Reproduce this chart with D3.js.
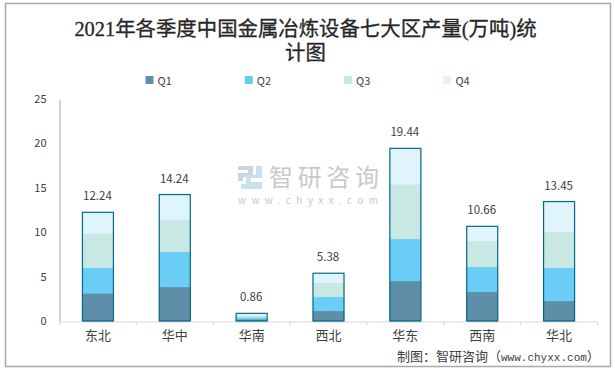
<!DOCTYPE html>
<html>
<head>
<meta charset="utf-8">
<script src="https://cdn.jsdelivr.net/npm/d3@7/dist/d3.min.js"></script>
<style>
  html, body { margin: 0; padding: 0; background: #fff; }
  svg { display: block; }
  text { font-family: "Noto Sans CJK SC", "Noto Sans", sans-serif; }
</style>
</head>
<body>
<svg></svg>
<script>
const regions = ['东北', '华中', '华南', '西北', '华东', '西南', '华北'];
const quarters = ['Q1', 'Q2', 'Q3', 'Q4'];
const q1 = [3.12, 3.83, 0.2, 1.13, 4.5, 3.27, 2.25];
const q2 = [2.88, 3.94, 0.2, 1.57, 4.73, 2.81, 3.75];
const q3 = [3.87, 3.6, 0.24, 1.58, 6.16, 2.92, 4.02];
const q4 = [2.37, 2.87, 0.22, 1.1, 4.05, 1.66, 3.43];
const totals = [12.24, 14.24, 0.86, 5.38, 19.44, 10.66, 13.45];
const yTicks = [0, 5, 10, 15, 20, 25];

const COLORS = ['#5f8fa8', '#69cdf6', '#c9e8e4', '#dff4fb'];
const STROKES = ['#4d7c96', '#69cdf6', '#b5dcd6', '#dff4fb'];
const OUTLINE = '#006a8e';

const width = 615;
const height = 370;

const svg = d3.select('svg').attr('width', width).attr('height', height);

// 外框
svg.append('rect')
    .attr('x', 5.5).attr('y', 3.5)
    .attr('width', 605).attr('height', 363)
    .attr('fill', '#fff')
    .attr('stroke', '#a9a9a9')
    .attr('stroke-width', 1.5);

// 标题
svg.append('g')
    .attr('text-anchor', 'middle')
    .attr('font-size', 20.4)
    .attr('fill', '#262626')
    .attr('stroke', '#262626')
    .attr('stroke-width', 0.3)
    .selectAll('text')
    .data(['2021年各季度中国金属冶炼设备七大区产量(万吨)统', '计图'])
    .enter()
    .append('text')
    .attr('x', 305.5)
    .attr('y', (d, i) => 35.5 + i * 24)
    .style('font-family', '"Liberation Serif", "Noto Sans CJK SC", serif')
    .text(d => d);

const x = d3.scaleBand().domain(regions).range([59.5, 597.5]).paddingInner(0).paddingOuter(0);
const y = d3.scaleLinear().domain([0, 25]).range([321, 99]);
const barWidth = 31;

// 水印
const mark = svg.append('g').attr('transform', 'translate(238,166)');
mark.append('path')
    .attr('d', 'M0,0H15V11H5V15H0V7H10V4H0Z')
    .attr('fill', '#ced3e4');
mark.append('path')
    .attr('d', 'M18,0H24V12H13V16H24V23H3V18H8V9H18Z')
    .attr('fill', '#c9e0f0');
svg.append('text')
    .attr('x', 269).attr('y', 186)
    .attr('font-size', 24)
    .attr('textLength', 110)
    .attr('fill', '#c9c9c9')
    .text('智研咨询');
svg.append('text')
    .attr('x', 238).attr('y', 204)
    .attr('font-size', 10)
    .attr('textLength', 140)
    .attr('fill', '#c9c9c9')
    .text('www.chyxx.com');

// 坐标轴
const yAxis = svg.append('g')
    .attr('transform', 'translate(59.5,0)')
    .call(d3.axisLeft(y).tickValues(yTicks).tickSize(0).tickPadding(13));
yAxis.select('.domain').attr('stroke', '#a6a6a6');
yAxis.selectAll('text').attr('font-size', 11).attr('fill', '#404040');

const xAxis = svg.append('g')
    .attr('transform', 'translate(0,321.5)')
    .call(d3.axisBottom(x).tickSize(0).tickPadding(9));
xAxis.select('.domain').attr('stroke', '#d9d9d9');
xAxis.selectAll('text').attr('font-size', 13).attr('fill', '#404040');
xAxis.selectAll('.edge')
    .data(d3.range(regions.length + 1))
    .enter()
    .append('line')
    .attr('x1', i => 59.5 + i * x.step())
    .attr('x2', i => 59.5 + i * x.step())
    .attr('y1', 0).attr('y2', 4)
    .attr('stroke', '#d9d9d9');

// 堆叠柱
const rows = regions.map((r, i) => ({region: r, Q1: q1[i], Q2: q2[i], Q3: q3[i], Q4: q4[i]}));
const series = d3.stack().keys(quarters)(rows);
const barX = d => x(d) + (x.step() - barWidth) / 2;

svg.append('g')
    .selectAll('g')
    .data(series)
    .enter()
    .append('g')
    .attr('fill', (d, i) => COLORS[i])
    .attr('stroke', (d, i) => STROKES[i])
    .attr('stroke-width', 0.6)
    .attr('stroke-dasharray', '2,1')
    .selectAll('rect')
    .data(d => d)
    .enter()
    .append('rect')
    .attr('x', d => barX(d.data.region))
    .attr('y', d => y(d[1]))
    .attr('width', barWidth)
    .attr('height', d => y(d[0]) - y(d[1]));

// 合计外框和数值
svg.append('g')
    .selectAll('rect')
    .data(totals)
    .enter()
    .append('rect')
    .attr('x', (d, i) => barX(regions[i]))
    .attr('y', d => y(d))
    .attr('width', barWidth)
    .attr('height', d => y(0) - y(d))
    .attr('fill', 'none')
    .attr('stroke', OUTLINE)
    .attr('stroke-width', 1.2);

svg.append('g')
    .attr('text-anchor', 'middle')
    .attr('font-size', 11.5)
    .attr('fill', '#404040')
    .selectAll('text')
    .data(totals)
    .enter()
    .append('text')
    .attr('x', (d, i) => x(regions[i]) + x.step() / 2 - 0.5)
    .attr('y', d => y(d) - 12)
    .text(d => d.toFixed(2));

// 图例
const legend = svg.append('g')
    .selectAll('g')
    .data(quarters)
    .enter()
    .append('g')
    .attr('transform', (d, i) => `translate(${145.5 + i * 99.3},76)`);
legend.append('rect')
    .attr('width', 8).attr('height', 8)
    .attr('fill', (d, i) => COLORS[i]);
legend.append('text')
    .attr('x', 12).attr('y', 8.5)
    .attr('font-size', 11)
    .attr('fill', '#404040')
    .text(d => d);

// 来源
const source = svg.append('text')
    .attr('x', 397).attr('y', 360.5)
    .attr('font-size', 13)
    .attr('fill', '#404040');
source.append('tspan').text('制图：智研咨询（');
source.append('tspan')
    .style('font-family', '"Liberation Mono", monospace')
    .attr('font-size', 11)
    .text('www.chyxx.com');
source.append('tspan').text('）');
</script>
</body>
</html>
